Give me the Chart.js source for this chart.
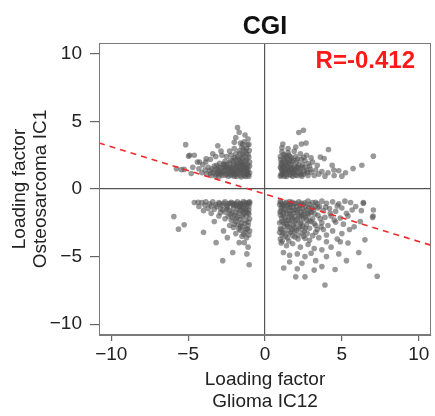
<!DOCTYPE html>
<html>
<head>
<meta charset="utf-8">
<script src="https://cdn.jsdelivr.net/npm/chart.js@4.4.1/dist/chart.umd.min.js"></script>
<style>
html,body{margin:0;padding:0;background:#fff;}
canvas{display:block;}
</style>
</head>
<body>
<canvas id="c" width="435" height="416"></canvas>
<script>
// ---- data ----
const chartTitle = "CGI";
const corrLabel = "R=-0.412";
const xTitle = ["Loading factor", "Glioma IC12"];
const yTitle = ["Loading factor", "Osteosarcoma IC1"];
const xTicks = [-10, -5, 0, 5, 10];
const yTicks = [-10, -5, 0, 5, 10];
const axisMin = -10.8;
const axisMax = 10.8;
const fitX = [-10.8, 10.8];
const fitY = [3.4, -4.16];

const upperLeft = [
[-1.05,0.95],[-1.2,1.1],[-1.35,0.98],[-1.5,1.2],[-1.1,1.4],[-1.3,1.6],[-1.6,1.0],[-1.75,1.35],[-1.9,1.05],[-2.05,1.25],
[-1.15,1.85],[-1.45,1.75],[-1.7,1.6],[-1.95,1.5],[-2.2,1.0],[-2.35,1.3],[-2.1,1.7],[-1.25,2.1],[-1.55,2.0],[-1.85,1.9],
[-2.3,1.55],[-2.5,1.1],[-2.65,1.4],[-2.45,1.8],[-2.8,1.0],[-2.9,1.3],[-2.7,1.65],[-3.05,1.15],[-3.2,0.95],[-3.1,1.45],
[-3.35,1.2],[-3.5,1.0],[-3.6,1.35],[-3.8,1.1],[-3.3,1.7],[-2.95,1.9],[-2.6,2.05],[-2.25,2.1],[-2.0,2.3],[-1.7,2.25],
[-1.4,2.4],[-1.1,2.55],[-1.3,2.8],[-1.6,2.65],[-1.9,2.6],[-2.2,2.5],[-1.2,3.0],[-1.5,3.1],[-1.05,3.3],[-1.35,3.5],
[-1.0,1.2],[-1.0,1.7],[-1.0,2.0],[-1.15,1.25],[-1.4,1.35],[-1.6,1.45],[-1.8,1.15],[-2.0,0.95],[-1.25,0.92],[-1.55,0.9],
[-1.85,0.92],[-2.15,1.45],[-2.4,0.95],[-2.55,1.6],[-2.75,1.2],[-3.0,0.92],[-3.45,1.5],[-3.7,1.6],[-3.9,1.4],[-4.1,1.2],
[-4.3,1.5],[-4.05,1.8],[-3.85,2.0],[-3.55,2.2],[-4.4,2.0],[-4.7,1.6],[-2.3,2.8],[-2.0,3.0],[-1.6,3.4],[-1.1,3.7],
[-2.5,2.4],[-3.2,2.4],[-3.4,2.6],[-2.8,2.5],[-1.3,4.0],[-1.79,4.55],[-1.68,4.2],[-1.9,3.8],[-2.0,3.45],[-1.46,3.33],
[-1.14,3.26],[-3.07,3.2],[-2.86,2.8],[-4.9,2.5],[-4.6,2.5],[-4.26,2.0],[-3.83,2.24],[-5.76,1.5],[-5.44,1.43],[-5.16,3.28],
[-4.97,2.43],[-5.26,1.45],[-4.8,1.15],[-1.2,1.5],[-1.5,1.85],[-1.8,1.75],[-2.1,1.1],[-2.4,1.45],[-2.7,1.85],[-3.0,1.6],
[-1.08,1.05],[-1.22,1.32],[-1.38,1.12],[-1.52,1.38],[-1.68,1.18],[-1.82,1.42],[-1.98,1.2],[-2.12,1.32],[-2.28,1.12],[-2.42,1.25],
[-2.58,1.02],[-2.72,1.32],[-2.88,1.12],[-3.02,1.32],[-3.18,1.1],[-3.28,1.38],[-1.12,1.62],[-1.28,1.78],[-1.42,1.58],[-1.58,1.72],
[-1.72,1.92],[-1.88,1.62],[-2.02,1.82],[-2.18,1.58],[-2.32,1.92],[-2.48,1.62],[-1.18,2.22],[-1.35,2.02],[-1.48,2.28],[-1.62,2.12],
[-1.78,2.38],[-1.92,2.18],[-2.08,2.08],[-1.05,2.35],[-1.22,2.62],[-1.45,2.55],[-1.68,2.82],[-1.02,2.85],[-2.65,1.8],[-2.85,1.55],
[-3.55,1.15],[-3.15,1.75],[-1.4,2.95]
];

const upperRight = [
[1.0,0.95],[1.2,1.15],[1.4,0.92],[1.1,1.4],[1.35,1.3],[1.6,1.1],[1.8,0.95],[1.5,1.55],[1.25,1.7],[1.05,1.9],
[1.7,1.45],[1.95,1.25],[2.1,1.0],[2.3,1.3],[1.9,1.7],[1.55,1.9],[1.2,2.1],[1.45,2.2],[1.75,2.05],[2.15,1.6],
[2.5,1.1],[2.7,1.4],[2.45,1.8],[2.05,2.0],[1.0,2.4],[1.3,2.5],[1.65,2.4],[2.0,2.4],[2.35,2.2],[2.8,1.0],
[3.0,1.25],[2.9,1.7],[3.2,1.0],[3.3,1.4],[3.1,2.0],[2.6,2.1],[1.1,2.75],[1.5,2.7],[1.9,2.8],[2.3,2.6],
[2.7,2.5],[1.05,1.1],[1.25,0.95],[1.6,1.25],[2.0,1.45],[2.4,0.95],[1.0,1.6],[1.4,1.75],[3.5,1.1],[3.7,1.3],
[3.4,1.75],[3.9,0.95],[4.1,1.2],[2.2,4.18],[2.5,4.35],[2.37,3.33],[2.67,3.4],[1.16,3.33],[1.1,3.05],[4.13,2.92],
[3.6,2.36],[3.85,2.25],[7.05,2.43],[6.3,1.76],[5.73,1.51],[5.24,1.2],[4.8,1.35],[4.48,1.4],[4.37,1.76],[1.5,3.0],
[2.0,3.1],[3.0,2.3],[4.5,1.0],[5.0,0.95],[1.15,1.25],[1.3,1.5],[1.8,1.3],[2.2,1.8],[2.6,1.6],[1.7,1.8],
[1.08,1.02],[1.22,1.28],[1.38,1.08],[1.52,1.35],[1.68,1.02],[1.85,1.18],[1.98,1.02],[2.18,1.18],[2.32,1.05],[2.55,1.28],
[1.05,1.52],[1.18,1.62],[1.32,1.85],[1.48,1.42],[1.62,1.62],[1.78,1.58],[1.92,1.42],[2.08,1.62],[2.28,1.48],[2.42,1.62],
[1.12,1.98],[1.28,2.25],[1.42,1.98],[1.58,2.08],[1.72,2.28],[1.88,2.12],[2.12,2.22],[1.02,2.18],[1.2,2.55],[1.38,2.38],
[2.75,1.2],[2.95,1.45],[2.82,1.88],[1.08,1.75],[1.55,2.5],[2.52,2.35]
];

const lowerLeft = [
[-1.0,-0.95],[-1.2,-1.1],[-1.4,-0.92],[-1.6,-1.05],[-1.8,-0.95],[-2.0,-1.15],[-2.2,-0.98],[-2.4,-1.1],[-2.6,-0.95],[-2.8,-1.2],
[-3.0,-1.0],[-3.2,-1.15],[-3.4,-0.95],[-3.6,-1.1],[-3.85,-0.95],[-4.1,-1.0],[-4.35,-0.98],[-4.6,-1.0],[-2.5,-1.35],[-2.9,-1.45],
[-3.3,-1.5],[-3.7,-1.45],[-4.0,-1.6],[-1.05,-1.3],[-1.3,-1.5],[-1.55,-1.35],[-1.8,-1.5],[-2.05,-1.4],[-2.3,-1.6],[-1.1,-1.75],
[-1.4,-1.9],[-1.7,-1.8],[-2.0,-1.95],[-2.4,-2.0],[-1.0,-2.2],[-1.25,-2.35],[-1.6,-2.25],[-1.9,-2.4],[-2.2,-2.3],[-1.1,-2.7],
[-1.45,-2.8],[-1.75,-2.65],[-2.05,-2.85],[-1.0,-3.1],[-1.3,-3.2],[-1.6,-3.05],[-1.2,-3.6],[-1.5,-3.5],[-1.9,-3.3],[-2.3,-2.7],
[-2.6,-2.2],[-1.05,-1.55],[-1.2,-2.0],[-1.5,-1.15],[-1.85,-1.2],[-2.15,-1.75],[-2.6,-1.7],[-5.93,-2.04],[-5.26,-2.65],[-5.63,-2.97],
[-4.0,-3.2],[-2.75,-5.3],[-1.03,-5.6],[-1.18,-4.8],[-2.1,-4.7],[-3.18,-3.97],[-1.68,-3.97],[-1.35,-3.97],[-3.0,-2.0],[-3.5,-1.8],
[-3.3,-2.4],[-2.7,-3.1],[-2.45,-3.6],[-1.1,-4.3],[-4.3,-1.3],[-2.9,-1.75],[-1.0,-1.05],[-1.3,-1.0],[-1.65,-1.25],[-2.1,-1.05],
[-1.08,-1.0],[-1.18,-1.25],[-1.32,-1.15],[-1.42,-1.42],[-1.58,-1.1],[-1.72,-1.32],[-1.92,-1.08],[-2.08,-1.22],[-2.28,-1.05],[-2.45,-1.25],
[-2.7,-1.05],[-2.95,-1.1],[-3.15,-1.3],[-3.5,-1.25],[-3.9,-1.2],[-1.05,-1.85],[-1.22,-1.62],[-1.35,-1.75],[-1.48,-2.05],[-1.62,-1.62],
[-1.78,-2.05],[-1.92,-1.75],[-2.12,-2.12],[-2.28,-1.85],[-1.08,-2.45],[-1.32,-2.55],[-1.55,-2.5],[-1.7,-2.95],[-1.85,-2.2],[-2.0,-2.6],
[-1.15,-2.95],[-1.4,-3.35],[-1.25,-3.0],[-1.05,-3.4],[-2.45,-1.5],[-2.75,-1.55],[-1.45,-1.6],[-1.6,-2.75]
];

const lowerRight = [
[1.0,-0.9],[1.3,-1.05],[1.6,-0.92],[1.9,-1.1],[2.2,-0.95],[2.5,-1.15],[2.8,-0.9],[3.1,-1.0],[3.4,-1.1],[3.7,-0.9],
[4.0,-1.05],[4.4,-0.95],[4.8,-1.1],[5.2,-0.9],[5.57,-1.0],[6.4,-1.0],[1.05,-1.4],[1.35,-1.6],[1.65,-1.35],[1.95,-1.55],
[2.25,-1.45],[2.55,-1.65],[2.85,-1.35],[3.15,-1.55],[3.45,-1.4],[3.8,-1.6],[4.2,-1.45],[4.6,-1.65],[5.0,-1.4],[5.67,-1.55],
[6.27,-1.6],[7.05,-1.55],[1.0,-1.9],[1.3,-2.1],[1.6,-1.85],[1.9,-2.05],[2.2,-1.9],[2.5,-2.15],[2.8,-1.95],[3.1,-2.2],
[3.45,-1.95],[3.9,-2.1],[4.3,-2.0],[4.9,-2.15],[5.4,-2.0],[7.0,-2.1],[6.2,-2.4],[1.1,-2.4],[1.4,-2.6],[1.7,-2.35],
[2.0,-2.55],[2.35,-2.45],[2.7,-2.65],[3.0,-2.4],[3.3,-2.7],[3.7,-2.5],[4.1,-2.7],[4.6,-2.45],[5.1,-2.6],[5.8,-2.8],
[1.0,-2.9],[1.3,-3.1],[1.6,-2.85],[1.9,-3.15],[2.2,-2.95],[2.55,-3.1],[2.9,-2.9],[3.3,-3.2],[3.8,-3.0],[4.4,-3.1],
[5.0,-3.3],[5.5,-3.0],[1.1,-3.4],[1.45,-3.6],[1.8,-3.45],[2.15,-3.7],[2.5,-3.5],[2.9,-3.8],[3.5,-3.6],[4.0,-3.9],
[4.7,-3.7],[6.5,-3.76],[5.4,-4.0],[1.05,-4.0],[1.4,-4.2],[1.8,-4.05],[2.3,-4.3],[2.8,-4.1],[3.2,-4.4],[3.7,-4.5],
[4.3,-4.3],[6.1,-4.7],[1.2,-4.7],[1.6,-4.9],[2.1,-4.8],[2.6,-5.0],[3.0,-4.75],[4.0,-5.0],[4.8,-4.8],[1.22,-5.84],
[1.6,-5.4],[2.4,-5.5],[3.7,-5.74],[4.56,-5.96],[6.8,-5.7],[2.0,-6.5],[2.6,-6.5],[7.3,-6.45],[3.9,-7.1],[3.2,-6.0],
[5.3,-5.3],[1.15,-1.15],[1.45,-1.2],[1.75,-1.6],[2.05,-1.3],[2.35,-1.75],[2.65,-1.3],[2.95,-1.7],[1.2,-1.75],[1.5,-2.3],
[1.8,-2.2],[2.1,-2.25],[2.4,-2.0],[2.7,-2.3],[3.0,-1.75],[1.25,-2.75],[1.55,-3.25],[1.85,-2.7],[2.15,-3.4],[2.45,-2.75],
[2.75,-3.3],[3.2,-2.55],[1.0,-3.7],[3.6,-2.2],[3.4,-3.0],[1.7,-1.05],[2.35,-1.05],[3.25,-1.3],[0.95,-1.15],[0.95,-2.5],
[0.95,-3.2],[6.4,-1.05],[7.03,-2.0],[5.9,-1.3],[5.3,-1.8],[4.5,-2.3],[4.0,-3.4],[4.9,-3.9],[3.3,-5.3],[2.1,-5.9],
[1.02,-1.02],[1.12,-1.28],[1.25,-1.2],[1.38,-0.98],[1.52,-1.35],[1.62,-1.15],[1.78,-0.98],[1.85,-1.35],[2.02,-1.05],[2.12,-1.55],
[2.28,-1.2],[2.42,-1.42],[2.58,-1.02],[2.72,-1.55],[2.92,-1.15],[3.05,-1.42],[3.3,-0.98],[3.55,-1.3],[1.05,-1.62],[1.18,-1.98],
[1.28,-1.45],[1.42,-1.78],[1.55,-2.05],[1.62,-1.62],[1.72,-1.98],[1.88,-1.78],[1.98,-2.35],[2.08,-1.72],[2.22,-2.08],[2.32,-2.55],
[2.48,-1.85],[2.62,-2.05],[2.78,-1.8],[2.88,-2.35],[3.25,-1.85],[1.08,-2.15],[1.22,-2.5],[1.35,-2.35],[1.48,-2.78],[1.62,-2.55],
[1.75,-3.0],[1.92,-2.85],[2.05,-3.05],[2.28,-2.8],[2.42,-3.25],[2.62,-2.9],[1.05,-3.0],[1.18,-3.25],[1.32,-3.5],[1.68,-3.2],
[1.95,-3.55],[2.6,-3.65],[3.1,-3.45],[3.65,-2.8],[3.95,-1.35],[4.25,-1.8],[4.7,-1.25],[1.12,-3.85],[1.55,-3.85],[0.98,-1.7]
];

// ---- build ----
const toPts = arr => arr.map(p => ({x: p[0], y: p[1]}));
const fitPts = fitX.map((x, i) => ({x: x, y: fitY[i]}));
const FONT = "'Liberation Sans', Arial, Helvetica, sans-serif";
const pointColor = 'rgba(85,85,85,0.6)';
const fmt = v => (v < 0 ? '\u2212' + Math.abs(v) : String(v));

const framePlugin = {
  id: 'frame',
  afterDraw(chart) {
    const {ctx, chartArea: a} = chart;
    ctx.save();
    ctx.strokeStyle = '#7a7a7a';
    ctx.lineWidth = 1;
    ctx.strokeRect(a.left + 0.5, a.top + 0.5, a.right - a.left - 1, a.bottom - a.top - 1);
    ctx.font = 'bold 24px ' + FONT;
    ctx.fillStyle = '#ff1a1a';
    ctx.textAlign = 'right';
    ctx.textBaseline = 'middle';
    ctx.fillText(corrLabel, a.right - 16, a.top + 18);
    ctx.restore();
  }
};

const zeroGrid = ctx => (ctx.tick && ctx.tick.value === 0 ? '#555555' : 'rgba(0,0,0,0)');

new Chart(document.getElementById('c'), {
  type: 'scatter',
  data: {
    datasets: [
      {type: 'line', data: fitPts, borderColor: '#ee2b2b', borderWidth: 1.6, borderDash: [6, 5],
       pointRadius: 0, fill: false, order: 0},
      {data: toPts(upperLeft), backgroundColor: pointColor, borderWidth: 0, pointRadius: 2.8, order: 1},
      {data: toPts(upperRight), backgroundColor: pointColor, borderWidth: 0, pointRadius: 2.8, order: 1},
      {data: toPts(lowerLeft), backgroundColor: pointColor, borderWidth: 0, pointRadius: 2.8, order: 1},
      {data: toPts(lowerRight), backgroundColor: pointColor, borderWidth: 0, pointRadius: 2.8, order: 1}
    ]
  },
  options: {
    responsive: false,
    animation: false,
    devicePixelRatio: 1,
    layout: {padding: {left: 0, right: 2, top: 0, bottom: 0}},
    plugins: {
      legend: {display: false},
      tooltip: {enabled: false},
      title: {
        display: true, text: chartTitle, fullSize: false, color: '#111',
        font: {family: FONT, size: 25, weight: 'bold', lineHeight: 1.2},
        padding: {top: 12, bottom: 1}
      }
    },
    scales: {
      x: {
        type: 'linear', min: axisMin, max: axisMax,
        afterBuildTicks: s => { s.ticks = xTicks.map(v => ({value: v})); },
        afterFit: s => { s.height = 81; },
        ticks: {font: {family: FONT, size: 19}, color: '#222', padding: 2, callback: v => fmt(v), maxRotation: 0},
        grid: {color: zeroGrid, lineWidth: 1.2, drawTicks: true, tickLength: 6, tickColor: '#666'},
        border: {display: true, color: '#7a7a7a'},
        title: {display: true, text: xTitle, color: '#222',
                font: {family: FONT, size: 19, lineHeight: 1.15}, padding: {top: 0, bottom: 3}}
      },
      y: {
        type: 'linear', min: axisMin, max: axisMax,
        afterBuildTicks: s => { s.ticks = yTicks.map(v => ({value: v})); },
        afterFit: s => { s.width = 99; },
        ticks: {font: {family: FONT, size: 19}, color: '#222', padding: 8, callback: v => fmt(v)},
        grid: {color: zeroGrid, lineWidth: 1.2, drawTicks: true, tickLength: 9, tickColor: '#666'},
        border: {display: true, color: '#7a7a7a'},
        title: {display: true, text: yTitle, color: '#222',
                font: {family: FONT, size: 19, lineHeight: 1.1}, padding: {top: 9, bottom: 0}}
      }
    }
  },
  plugins: [framePlugin]
});
</script>
</body>
</html>
